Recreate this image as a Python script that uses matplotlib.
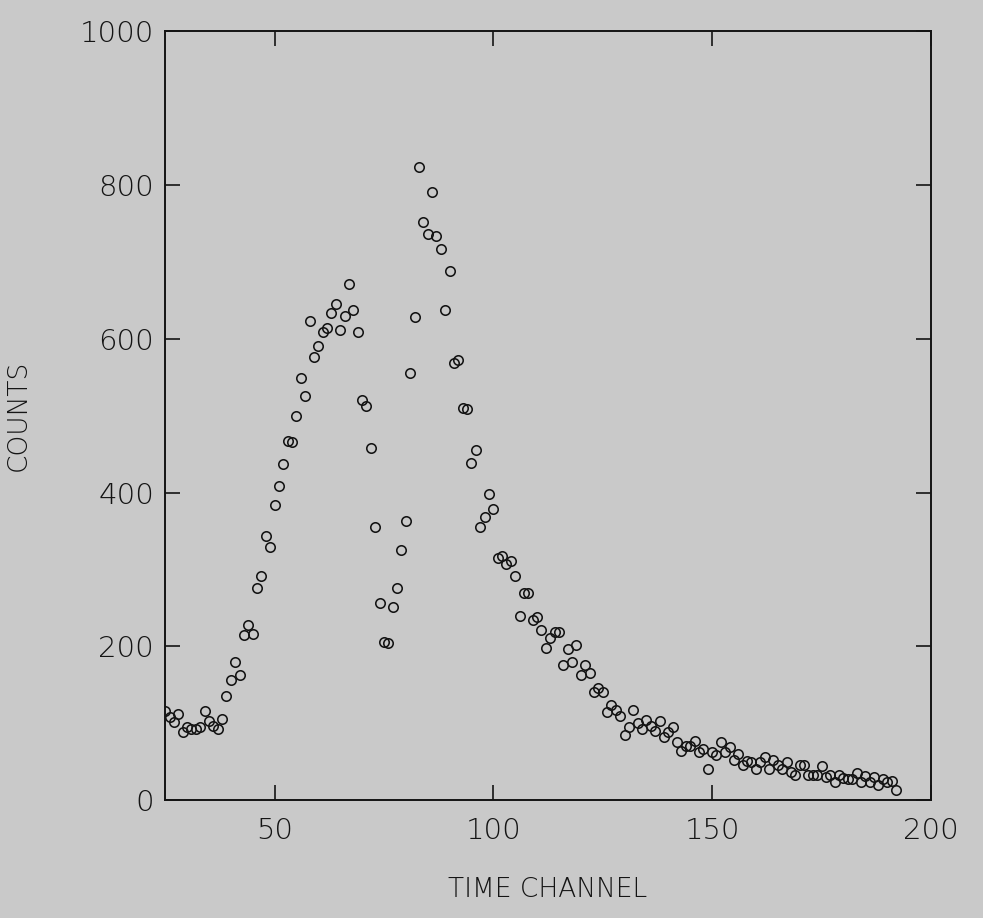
import numpy as np
import matplotlib
matplotlib.use('Agg')
import matplotlib.pyplot as plt

# Time channels of the spectrum (one count value per channel)
first_channel = 25
last_channel = 192

# Counts, channel 25 .. 192
counts_rise = [116, 108, 102, 112, 88, 95, 93, 93, 95, 116, 103, 96, 93, 106,
               135, 156, 179, 162, 215, 228, 216,
               276, 292, 344, 329, 384, 408, 437, 467, 466, 500, 549, 526]
counts_peak1 = [623, 576, 591, 609, 614, 634, 645, 611, 630, 671, 637, 609,
                520, 512, 458, 355, 256, 205, 204, 251, 276, 325, 363]
counts_peak2 = [556, 628, 824, 752, 736, 791, 734, 717, 638, 688, 569, 572,
                510, 508, 439, 455, 355, 368, 398, 379, 315, 317, 307, 311,
                292, 240, 269, 269, 234, 238, 221, 198, 211, 218, 218]
counts_tail = [175, 196, 180, 202, 163, 175, 165, 140, 146, 140, 114, 124,
               117, 109, 85, 95, 117, 100, 93, 104, 96, 90, 103, 82, 88, 95,
               75, 64, 70, 70, 77, 62, 67, 41, 62,
               58, 76, 63, 69, 52, 60, 46, 51, 50, 41, 50, 56, 41, 52, 46, 40,
               50, 37, 33, 45, 45, 33, 33, 33, 44, 30, 33, 24, 33, 29, 28, 28,
               35, 24, 31, 24, 30, 20, 28, 24, 25, 13]

counts = np.array(counts_rise + counts_peak1 + counts_peak2 + counts_tail)
channels = np.arange(first_channel, last_channel + 1)

x_ticks = [50, 100, 150, 200]
y_ticks = [0, 200, 400, 600, 800, 1000]

bg = '#c9c9c9'
ink = '#141414'

plt.rcParams['font.family'] = ['DejaVu Sans']

fig = plt.figure(figsize=(9.83, 9.18), dpi=100, facecolor=bg)
ax = fig.add_axes([0.168, 0.1285, 0.779, 0.8375], facecolor=bg)

ax.plot(channels, counts, linestyle='none', marker='o', markersize=6.8,
        markerfacecolor='none', markeredgecolor=ink, markeredgewidth=1.15)

ax.set_xlim(25, 200)
ax.set_ylim(0, 1000)
ax.set_xticks(x_ticks)
ax.set_yticks(y_ticks)

for s in ax.spines.values():
    s.set_color(ink)
    s.set_linewidth(1.4)

ax.tick_params(axis='both', direction='in', length=11, width=1.2, color=ink,
               top=True, right=True, labelsize=21, labelcolor=ink)
ax.tick_params(axis='x', pad=12)
ax.tick_params(axis='y', pad=8)
for lab in ax.get_xticklabels() + ax.get_yticklabels():
    lab.set_fontweight(200)

ax.set_xlabel('TIME CHANNEL', fontsize=19, fontweight=200, color=ink)
ax.set_ylabel('COUNTS', fontsize=19, fontweight=200, color=ink)
ax.xaxis.set_label_coords(0.5, -0.1)
ax.yaxis.set_label_coords(-0.176, 0.5)

fig.savefig('out.png', dpi=100, facecolor=bg)
